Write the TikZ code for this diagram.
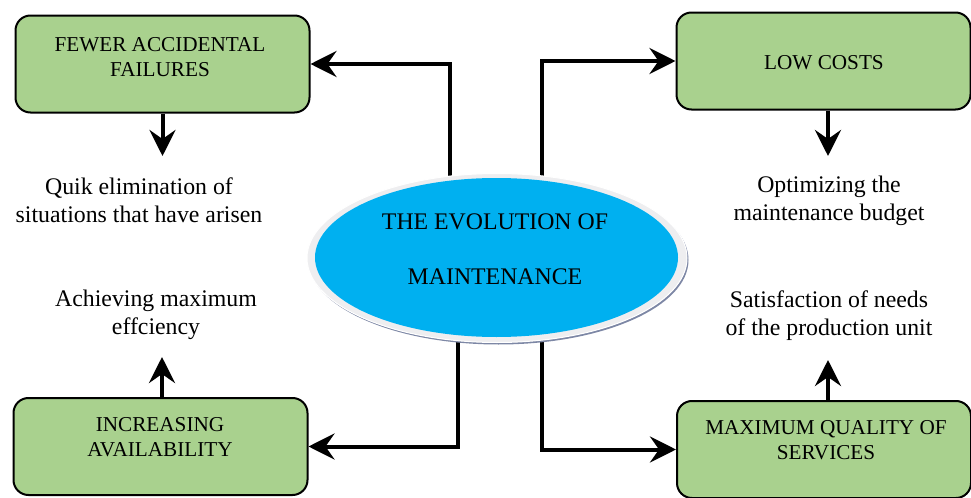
\documentclass[tikz,border=0pt]{standalone}
\usepackage{fontspec}
\setmainfont{Liberation Serif}
\usetikzlibrary{shapes.geometric,arrows.meta,backgrounds}
\definecolor{boxgreen}{RGB}{169,209,142}
\definecolor{ellblue}{RGB}{0,176,240}
\definecolor{ringgray}{RGB}{238,238,240}
\definecolor{shadowblue}{RGB}{125,135,165}
\begin{document}
\begin{tikzpicture}[x=0.5pt,y=-0.5pt,
  greenbox/.style={draw=black, line width=1pt, fill=boxgreen, rounded corners=7.5pt,
    minimum width=147pt, minimum height=48.5pt, inner sep=0pt},
  boxtext/.style={align=center, font=\fontsize{10.6}{12.5}\selectfont, inner sep=0pt},
  plaintext/.style={align=center, font=\fontsize{11.9}{14}\selectfont, inner sep=0pt},
  elltext/.style={font=\fontsize{11.9}{14}\selectfont, inner sep=0pt},
  conn/.style={line width=2pt, -{Stealth[length=13pt,width=13pt,inset=4.5pt]}},
]
\useasboundingbox (0,0) rectangle (971,498);

% boxes
\node[greenbox] (b1) at (162.5,64) {};
\node[greenbox] (b2) at (823.5,61) {};
\node[greenbox] (b3) at (160.5,446.5) {};
\node[greenbox] (b4) at (824,449.5) {};

\node[boxtext] (t1) at (160,57) {FEWER ACCIDENTAL\\FAILURES};
\node[boxtext] (t2) at (824,63) {LOW COSTS};
\node[boxtext] (t3) at (160,437) {INCREASING\\AVAILABILITY};
\node[boxtext] (t4) at (826,440) {MAXIMUM QUALITY OF\\SERVICES};

% plain texts
\node[plaintext] (p1) at (139,200) {Quik elimination of\\situations that have arisen};
\node[plaintext] (p2) at (156,315) {Achieving maximum\\effciency};
\node[plaintext] (p3) at (829,201) {Optimizing the\\maintenance budget};
\node[plaintext] (p4) at (829,316) {Satisfaction of needs\\of the production unit};

% ellipse
\node[ellipse, fill=shadowblue, minimum width=190pt, minimum height=84.5pt, inner sep=0pt] (ellsh) at (498.5,260) {};
\node[ellipse, fill=ringgray, draw=white, line width=0.5pt, minimum width=190pt, minimum height=84.5pt, inner sep=0pt] (ell) at (497,258) {};
\node[ellipse, fill=ellblue, minimum width=181.5pt, minimum height=79.5pt, inner sep=0pt] (ellin) at (496.5,257.5) {};
\node[elltext] (e1) at (495,222) {THE EVOLUTION OF};
\node[elltext] (e2) at (495,277) {MAINTENANCE};

% connectors from the ellipse
\begin{scope}[on background layer]
\draw[conn] ([xshift=-23.5pt]ell.center) |- (b1);
\draw[conn] ([xshift=22.5pt]ell.center) |- (b2);
\draw[conn] ([xshift=-19.5pt]ell.center) |- (b3);
\draw[conn] ([xshift=22.5pt]ell.center) |- (b4);
\end{scope}

% short arrows
\coordinate (a1) at (162.5,156);
\coordinate (a2) at (828,156);
\coordinate (a3) at (162,357);
\coordinate (a4) at (828,360);
\draw[conn] (b1.south -| a1) -- (a1);
\draw[conn] (b2.south -| a2) -- (a2);
\draw[conn] (b3.north -| a3) -- (a3);
\draw[conn] (b4.north -| a4) -- (a4);
\end{tikzpicture}
\end{document}
